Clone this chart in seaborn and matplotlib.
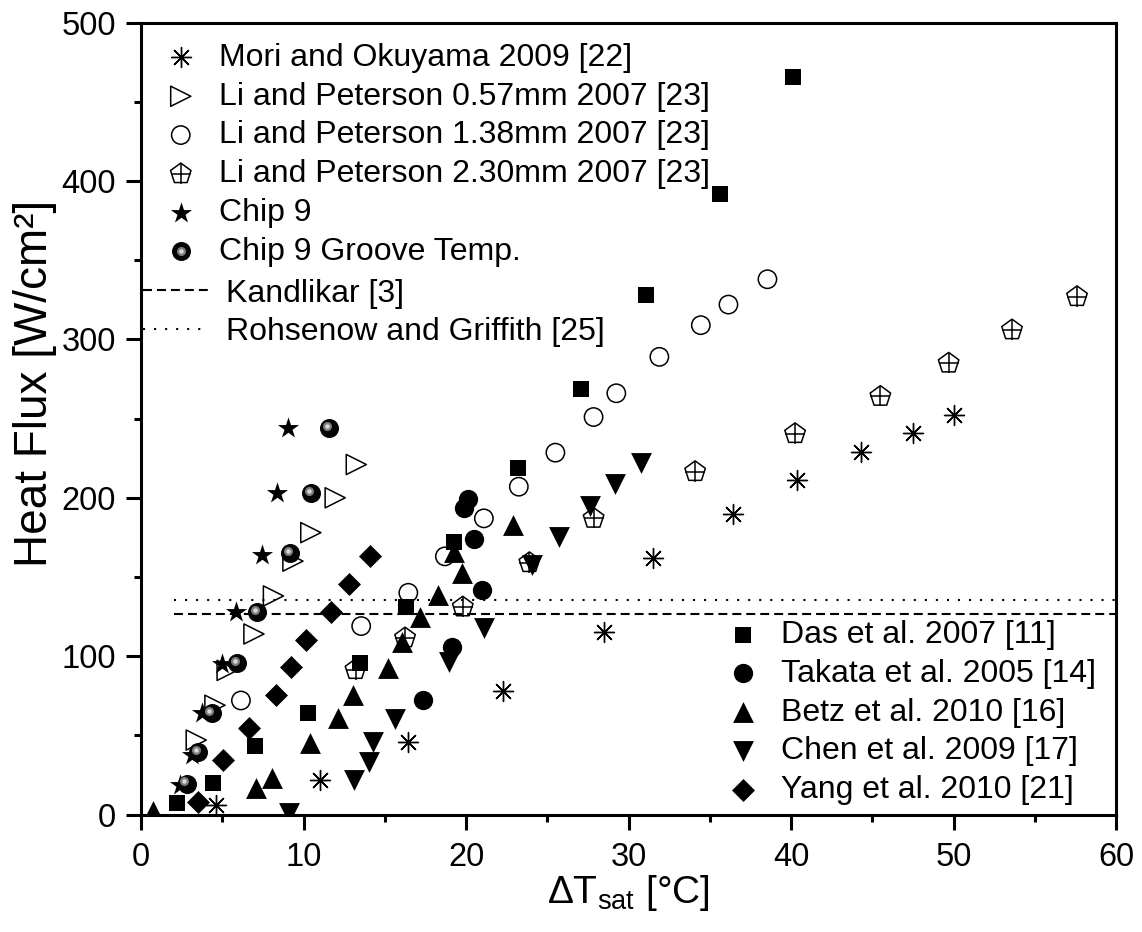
import numpy as np
import matplotlib
matplotlib.use("Agg")
import matplotlib.pyplot as plt
import seaborn as sns
from matplotlib.transforms import ScaledTranslation
from matplotlib.legend_handler import HandlerTuple

# ---------------- data ----------------
mori_x = [4.6, 11.0, 16.45, 22.3, 28.5, 31.5, 36.45, 40.35, 44.3, 47.5, 50.0]
mori_y = [6, 22, 46, 78, 115, 162, 190, 211, 229, 241, 252]

li057_x = [3.4, 4.55, 5.3, 6.95, 8.15, 9.35, 10.45, 11.95, 13.25]
li057_y = [47, 69, 91, 114, 138, 160, 178, 200, 221]

li138_x = [6.15, 13.55, 16.45, 18.7, 21.1, 23.25, 25.5, 27.85, 29.25, 31.9, 34.45, 36.15, 38.55]
li138_y = [72, 119, 140, 163, 187, 207, 228.5, 251, 266, 289, 309, 322, 338]

li230_x = [13.2, 16.25, 19.8, 23.9, 27.85, 34.1, 40.25, 45.5, 49.7, 53.6, 57.6]
li230_y = [91.5, 111.5, 131, 159, 187, 216.5, 240.5, 264, 285, 306, 327]

chip9_x = [2.4, 3.12, 3.73, 4.96, 5.85, 7.47, 8.35, 9.07]
chip9_y = [18.6, 37.6, 64, 95, 128, 164, 203, 244]

groove_x = [2.81, 3.53, 4.35, 5.93, 7.16, 9.17, 10.46, 11.57]
groove_y = [19.5, 39.5, 64, 95.5, 128, 165, 203, 244]

kandlikar_x = [2.0, 60.0]
kandlikar_y = [126.6, 126.6]
rohsenow_x = [2.0, 60.0]
rohsenow_y = [135.2, 135.2]

das_x = [2.2, 4.4, 7.0, 10.3, 13.5, 16.3, 19.25, 23.2, 27.05, 31.1, 35.65, 40.1]
das_y = [7, 20, 43, 64, 95.5, 131, 172, 219, 269, 328, 392, 466]

takata_x = [17.35, 19.15, 21.0, 20.5, 19.85, 20.15]
takata_y = [72, 106, 142, 174, 193.5, 199.5]

betz_x = [0.75, 7.1, 8.05, 10.4, 12.1, 13.05, 15.2, 16.05, 17.15, 18.25, 19.75, 19.25, 22.9]
betz_y = [2, 16.5, 23, 45, 61, 75.5, 92.5, 109, 125, 138.5, 152.5, 166, 183]

chen_x = [9.1, 13.1, 14.05, 14.3, 15.6, 18.95, 21.1, 24.05, 25.75, 27.65, 29.15, 30.75]
chen_y = [1, 22, 33, 46, 60, 96.5, 117.5, 157.5, 175, 194.5, 209, 222]

yang_x = [3.5, 5.05, 6.65, 8.3, 9.25, 10.15, 11.7, 12.8, 14.1]
yang_y = [8, 34.5, 54.5, 75.5, 93, 110.5, 128, 145.5, 163]

labels_top = ["Mori and Okuyama 2009 [22]", "Li and Peterson 0.57mm 2007 [23]",
              "Li and Peterson 1.38mm 2007 [23]", "Li and Peterson 2.30mm 2007 [23]",
              "Chip 9", "Chip 9 Groove Temp."]
labels_lines = ["Kandlikar [3]", "Rohsenow and Griffith [25]"]
labels_bottom = ["Das et al. 2007 [11]", "Takata et al. 2005 [14]", "Betz et al. 2010 [16]",
                 "Chen et al. 2009 [17]", "Yang et al. 2010 [21]"]

# ---------------- style ----------------
sns.set_style("ticks")
plt.rcParams['font.family'] = ['Liberation Sans', 'DejaVu Sans']
plt.rcParams['mathtext.fontset'] = 'custom'
plt.rcParams['mathtext.rm'] = 'Liberation Sans'
plt.rcParams['mathtext.it'] = 'Liberation Sans:italic'
plt.rcParams['mathtext.sf'] = 'Liberation Sans'
plt.rcParams['text.color'] = 'black'
plt.rcParams['axes.labelcolor'] = 'black'
plt.rcParams['xtick.color'] = 'black'
plt.rcParams['ytick.color'] = 'black'
plt.rcParams['axes.edgecolor'] = 'black'

fig = plt.figure(figsize=(11.42, 9.32), dpi=100)
ax = fig.add_axes([0.12347, 0.12607, 0.85377, 0.84957])

K = "black"


def scat(x, y, **kw):
    sns.scatterplot(x=x, y=y, ax=ax, legend=False, **kw)
    return ax.collections[-1]


ast = (8, 2, 0)
# open markers
h_li230 = scat(li230_x, li230_y, marker="p", s=15.5**2, color=K, facecolor="none",
               edgecolor=K, linewidth=1.1, zorder=3)
h_li230p = scat(li230_x, li230_y, marker="+", s=14.5**2, color=K, linewidth=1.1, zorder=3)
h_li138 = scat(li138_x, li138_y, marker="o", s=13.2**2, color=K, facecolor="none",
               edgecolor=K, linewidth=1.1, zorder=3)
h_li057 = scat(li057_x, li057_y, marker=">", s=14.5**2, color=K, facecolor="none",
               edgecolor=K, linewidth=1.1, zorder=3)
h_mori = scat(mori_x, mori_y, marker=ast, s=14.4**2, color=K, edgecolor=K,
              linewidth=1.0, zorder=3)

# filled markers
h_yang = scat(yang_x, yang_y, marker="D", s=11.7**2, color=K, edgecolor=K, linewidth=0, zorder=4)
h_chen = scat(chen_x, chen_y, marker="v", s=15**2, color=K, edgecolor=K, linewidth=0, zorder=4)
h_betz = scat(betz_x, betz_y, marker="^", s=15**2, color=K, edgecolor=K, linewidth=0, zorder=4)
h_takata = scat(takata_x, takata_y, marker="o", s=13.9**2, color=K, edgecolor=K, linewidth=0, zorder=4)
h_das = scat(das_x, das_y, marker="s", s=11.5**2, color=K, edgecolor=K, linewidth=0, zorder=4)

h_chip9 = scat(chip9_x, chip9_y, marker="*", s=16**2, color=K, edgecolor=K, linewidth=0, zorder=5)

# shaded spheres
h_gr = scat(groove_x, groove_y, marker="o", s=13.7**2, color="#050505", edgecolor=K,
            linewidth=0, zorder=6)
off = ScaledTranslation(-1.6 / 72, 1.6 / 72, fig.dpi_scale_trans)
h_gr2 = ax.scatter(groove_x, groove_y, marker="o", s=6.5**2, color="#7d7d7d", linewidth=0,
                   zorder=6, transform=ax.transData + off)
h_gr3 = ax.scatter(groove_x, groove_y, marker="o", s=3.2**2, color="#d9d9d9", linewidth=0,
                   zorder=6, transform=ax.transData + off)

# correlation lines
ln_k, = ax.plot(kandlikar_x, kandlikar_y, color=K, lw=1.5, dashes=(4.3, 2.4), zorder=2)
ln_r, = ax.plot(rohsenow_x, rohsenow_y, color=K, lw=1.5, dashes=(1, 4.3), zorder=2)

# ---------------- axes ----------------
ax.set_xlim(0, 60)
ax.set_ylim(0, 500)
ax.set_xticks(np.arange(0, 61, 10))
ax.set_xticks(np.arange(5, 60, 10), minor=True)
ax.set_yticks(np.arange(0, 501, 100))
ax.set_yticks(np.arange(50, 500, 100), minor=True)
ax.tick_params(which="major", direction="out", length=10.5, width=2.2, labelsize=23.5,
               top=False, right=False, color=K, labelcolor=K)
ax.tick_params(axis="x", which="major", pad=9)
ax.tick_params(axis="y", which="major", pad=7.5)
ax.tick_params(which="minor", direction="out", length=5, width=2.2, top=False, right=False, color=K)
for sp in ax.spines.values():
    sp.set_visible(True)
    sp.set_linewidth(2.2)
    sp.set_color(K)

ax.set_xlabel("ΔT$_{\\mathrm{sat}}$ [°C]", fontsize=28, color=K, labelpad=0)
ax.set_ylabel("Heat Flux [W/cm²]", fontsize=33, color=K)
ax.yaxis.set_label_coords(-0.086, 0.545)

# ---------------- legends ----------------
FS = 23
common = dict(frameon=False, fontsize=FS, borderpad=0, borderaxespad=0, labelcolor=K,
              labelspacing=0.275, handler_map={tuple: HandlerTuple(ndivide=1, pad=0)})

legA = fig.legend(handles=[h_mori, h_li057, h_li138, (h_li230, h_li230p), h_chip9,
                           (h_gr, h_gr2, h_gr3)],
                  labels=labels_top, loc="upper left", bbox_to_anchor=(0.1443, 0.9540),
                  handlelength=1.0, handletextpad=0.7, **common)
legB = fig.legend(handles=[ln_k, ln_r], labels=labels_lines, loc="upper left",
                  bbox_to_anchor=(0.1252, 0.7011), handlelength=2.04, handletextpad=0.56,
                  **common)
legC = fig.legend(handles=[h_das, h_takata, h_betz, h_chen, h_yang], labels=labels_bottom,
                  loc="upper left", bbox_to_anchor=(0.6366, 0.3347),
                  handlelength=1.0, handletextpad=0.7, **common)

fig.savefig("out.png", dpi=100)
